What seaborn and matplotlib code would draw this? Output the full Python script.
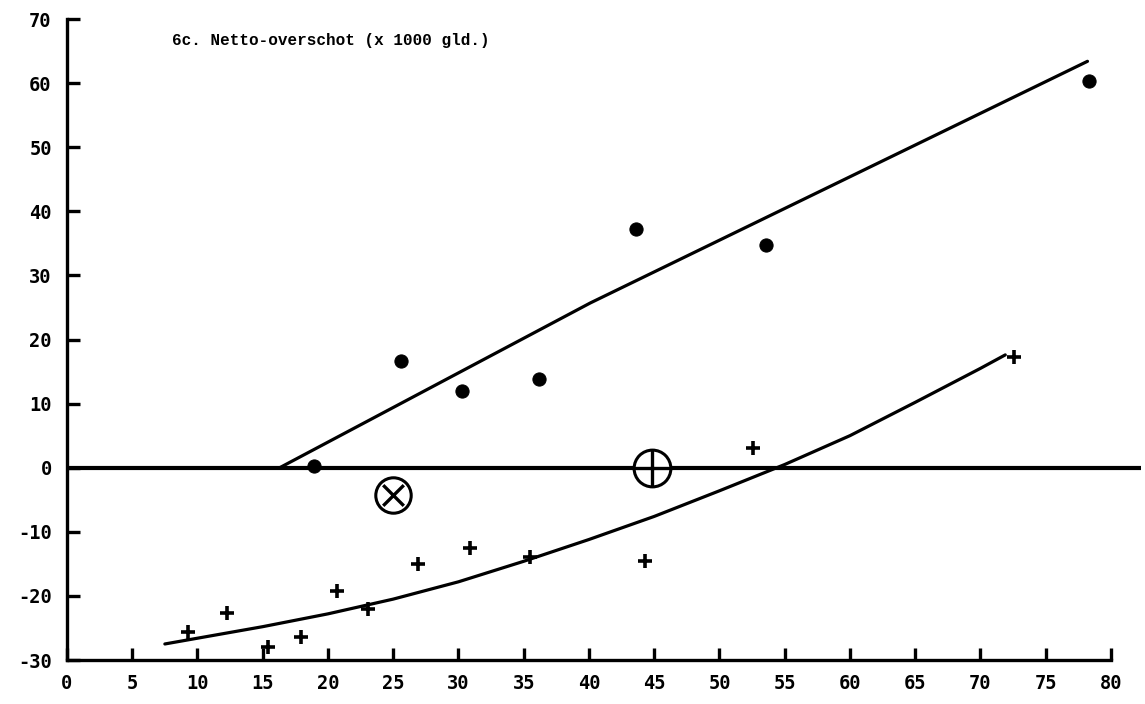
import matplotlib
matplotlib.use("Agg")
import matplotlib.pyplot as plt
import seaborn as sns
import pandas as pd

# ---- data ----
dot_x = [18.9, 25.6, 30.3, 36.2, 43.6, 53.6, 78.3]
dot_y = [0.3, 16.6, 12.0, 13.8, 37.3, 34.7, 60.3]

plus_x = [9.3, 12.3, 15.4, 17.9, 20.7, 23.1, 26.9, 30.9, 35.5, 44.3, 52.6, 72.6]
plus_y = [-25.6, -22.6, -28.0, -26.4, -19.3, -22.1, -15.0, -12.6, -14.0, -14.6, 3.0, 17.2]

upper_x = [16.3, 40.1, 78.2]
upper_y = [0.0, 25.7, 63.4]

lower_x = [7.5, 10, 15, 20, 25, 30, 35, 40, 45, 50, 55, 60, 65, 70, 71.9]
lower_y = [-27.5, -26.6, -24.8, -22.8, -20.5, -17.8, -14.6, -11.2, -7.6, -3.6, 0.5, 5.0, 10.2, 15.5, 17.6]

zero_x = [0, 82.3]
zero_y = [0, 0]

otimes_x, otimes_y = [25.0], [-4.2]
oplus_x, oplus_y = [44.8], [0.0]

x_ticks = [0, 5, 10, 15, 20, 25, 30, 35, 40, 45, 50, 55, 60, 65, 70, 75, 80]
y_ticks = [-30, -20, -10, 0, 10, 20, 30, 40, 50, 60, 70]
title = "6c. Netto-overschot (x 1000 gld.)"

# ---- plotting ----
sns.set_theme(style="ticks")
plt.rcParams['font.family'] = ['DejaVu Sans Mono', 'DejaVu Sans']

fig = plt.figure(figsize=(11.45, 7.04), dpi=100)
ax = fig.add_axes([0.0585, 0.0625, 0.9380, 0.9105])

dots = pd.DataFrame({"x": dot_x, "y": dot_y})
plus = pd.DataFrame({"x": plus_x, "y": plus_y})
up = pd.DataFrame({"x": upper_x, "y": upper_y})
lo = pd.DataFrame({"x": lower_x, "y": lower_y})
zr = pd.DataFrame({"x": zero_x, "y": zero_y})

sns.lineplot(data=zr, x="x", y="y", ax=ax, color="black", lw=3.0, sort=False, estimator=None)
sns.lineplot(data=up, x="x", y="y", ax=ax, color="black", lw=2.3, sort=False, estimator=None,
             solid_joinstyle="round", solid_capstyle="round")
sns.lineplot(data=lo, x="x", y="y", ax=ax, color="black", lw=2.3, sort=False, estimator=None,
             solid_joinstyle="round", solid_capstyle="round")

sns.scatterplot(data=dots, x="x", y="y", ax=ax, color="black", s=90, marker="o", edgecolor="black", zorder=5)
sns.scatterplot(data=plus, x="x", y="y", ax=ax, color="black", s=100, marker="+", linewidth=2.6, zorder=5)

# circled markers
sns.scatterplot(x=otimes_x, y=otimes_y, ax=ax, s=650, marker="o", facecolor="white",
                edgecolor="black", linewidth=2.2, zorder=6)
sns.scatterplot(x=otimes_x, y=otimes_y, ax=ax, s=220, marker="x", color="black",
                linewidth=2.4, zorder=7)
sns.scatterplot(x=oplus_x, y=oplus_y, ax=ax, s=700, marker="o", facecolor="white",
                edgecolor="black", linewidth=2.2, zorder=6)
sns.scatterplot(x=oplus_x, y=oplus_y, ax=ax, s=700, marker="+", color="black",
                linewidth=2.4, zorder=7)

ax.set_xlim(0, 82.3)
ax.set_ylim(-30, 70)
ax.set_xticks(x_ticks)
ax.set_yticks(y_ticks)
ax.set_xticklabels([str(v) for v in x_ticks], fontweight="bold")
ax.set_yticklabels([str(v) for v in y_ticks], fontweight="bold")
ax.set_xlabel("")
ax.set_ylabel("")

for s in ["top", "right"]:
    ax.spines[s].set_visible(False)
ax.spines["bottom"].set_bounds(0, 80)
ax.spines["left"].set_bounds(-30, 70)
for s in ["bottom", "left"]:
    ax.spines[s].set_linewidth(2.4)
    ax.spines[s].set_color("black")

ax.tick_params(axis="both", direction="in", length=9, width=2.4, colors="black",
               labelsize=13.5, pad=10)
ax.tick_params(axis="y", pad=11)

ax.text(0.0978, 0.967, title, transform=ax.transAxes, ha="left", va="center",
        fontsize=11.5, fontweight="bold",
        family=["Liberation Mono", "DejaVu Sans Mono"], color="black")

ax.set_facecolor("white")
fig.patch.set_facecolor("white")
fig.savefig("out.png", dpi=100)
